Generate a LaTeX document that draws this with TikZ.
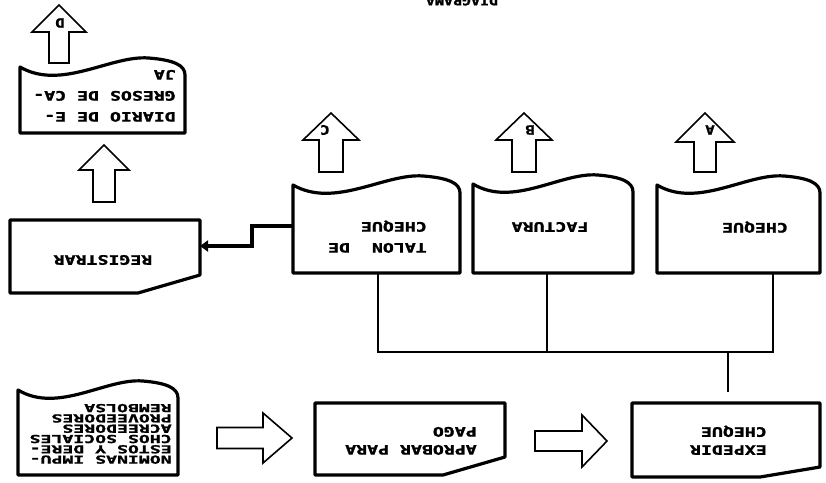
\documentclass[tikz,border=0pt]{standalone}
\usepackage{fontspec}
\newfontfamily\dm{DejaVu Sans Mono}[BoldFeatures={FakeBold=1.3}]
\usetikzlibrary{arrows.meta}
\tikzset{
  box/.style={line width=3.2pt, line join=round},
  blk/.style={line width=1.6pt, line join=miter},
  conn/.style={line width=1.3pt},
  lbl/.style={font=\dm\bfseries\fontsize{13}{21}\selectfont, rotate=180, xscale=1.4, inner sep=0pt, align=left},
  lbltight/.style={lbl, font=\dm\bfseries\fontsize{11}{10.3}\selectfont, xscale=1.65/1.4},
  lblmid/.style={lbl, font=\dm\bfseries\fontsize{13}{18}\selectfont},
  letter/.style={font=\dm\bfseries\fontsize{13}{13}\selectfont, rotate=180, xscale=1.2, inner sep=0pt},
  titl/.style={font=\dm\bfseries\fontsize{12}{12}\selectfont, rotate=180, xscale=1.25, inner sep=0pt},
}
% document shape: name, L, R, T, B
\newcommand\docshape[5]{%
  \draw[box] (#2,#4) .. controls ({#2+0.25*(#3-#2)},{#4+24}) and ({#2+0.55*(#3-#2)},{#4-12}) .. ({#2+0.78*(#3-#2)},{#4-9})
    .. controls ({#2+0.93*(#3-#2)},{#4-7}) and (#3,{#4-2}) .. (#3,{#4+8}) -- (#3,#5) -- (#2,#5) -- cycle;
  \coordinate (#1-w) at (#2,{(#4+#5)/2});
}
% block up arrow: cx, tip y, wing y, bottom y, half wing, half shaft
\newcommand\blkup[6]{%
  \draw[blk] (#1,#2) -- ({#1+#5},#3) -- ({#1+#6},#3) -- ({#1+#6},#4) -- ({#1-#6},#4) -- ({#1-#6},#3) -- ({#1-#5},#3) -- cycle;
}
% block right arrow: x0, xhead, xtip, cy, half shaft, half wing
\newcommand\blkright[6]{%
  \draw[blk] (#1,{#4-#5}) -- (#2,{#4-#5}) -- (#2,{#4-#6}) -- (#3,#4) -- (#2,{#4+#6}) -- (#2,{#4+#5}) -- (#1,{#4+#5}) -- cycle;
}
\begin{document}
\begin{tikzpicture}[x=1pt,y=-1pt]
\useasboundingbox (0,0) rectangle (826,482);
\fill[white] (0,0) rectangle (826,482);

% title (cut at page edge, as in the reference)
\node[titl] (title) at (462,1) {DIAGRAMA};

% documents
\docshape{diario}{20}{185}{67}{133}
\docshape{talon}{293}{460}{185}{273}
\docshape{factura}{473}{633}{184}{273}
\docshape{cheque}{657}{820}{185}{273}
\docshape{nominas}{18}{178}{390}{475}

% process boxes
\draw[box] (10,220) -- (200,220) -- (200,275) -- (138,293) -- (10,293) -- cycle;
\coordinate (reg-e) at (200,246);
\draw[box] (315,403) -- (505,403) -- (505,457) -- (443,475) -- (315,475) -- cycle;
\draw[box] (632,403) -- (820,403) -- (820,467) -- (760,477) -- (632,477) -- cycle;

% texts
\node[lbl, anchor=north west] (tdiario) at (176,122) {DIARIO DE E-\\GRESOS DE CA-\\JA};
\node[lbl, anchor=north west] (ttalon) at (427,253) {TALON~~DE\\CHEQUE};
\node[lbl] (tfactura) at (550,227) {FACTURA};
\node[lbl] (tcheque) at (755,227) {CHEQUE};
\node[lbl] (treg) at (103,260) {REGISTRAR};
\node[lblmid, anchor=north west] (taprob) at (477,455) {APROBAR PARA\\PAGO};
\node[lblmid, anchor=north west] (texped) at (767,455) {EXPEDIR\\CHEQUE};
\node[lbltight, anchor=north west] (tnom) at (172,464) {NOMINAS IMPU-\\ESTOS Y DERE-\\CHOS SOCIALES\\ACREEDORES\\PROVEEDORES\\REMBOLSA};

% block arrows
\blkup{59}{5}{32}{63}{27}{10}
\blkup{104}{145}{170}{202}{25}{11}
\blkup{331}{113}{140}{172}{28}{12}
\blkup{524}{113}{140}{172}{28}{12}
\blkup{705}{113}{142}{172}{29}{11}
\node[letter] (lD) at (60,23) {D};
\node[letter] (lC) at (325,130) {C};
\node[letter] (lB) at (530,130) {B};
\node[letter] (lA) at (710,130) {A};

\blkright{217}{263}{292}{438}{10.5}{25}
\blkright{535}{582}{607}{441}{10}{26}

% thick connector talon -> registrar
\coordinate (talon-c) at (293,226);
\draw[line width=4.5pt, line join=miter, -{Triangle[length=8pt,width=11pt]}] (talon-c) -- ++(-41,0) |- (reg-e);

% thin connectors
\coordinate (talon-s) at (378,273);
\coordinate (factura-s) at (547,273);
\coordinate (cheque-s) at (773,273);
\coordinate (j1) at (378,352);
\coordinate (j2) at (547,352);
\coordinate (j3) at (773,352);
\coordinate (jx) at (728,352);
\coordinate (exp-n) at (728,392);
\draw[conn] (talon-s) -- (j1) -- (j3) -- (cheque-s);
\draw[conn] (factura-s) -- (j2);
\draw[conn] (jx) -- (exp-n);
\end{tikzpicture}
\end{document}
